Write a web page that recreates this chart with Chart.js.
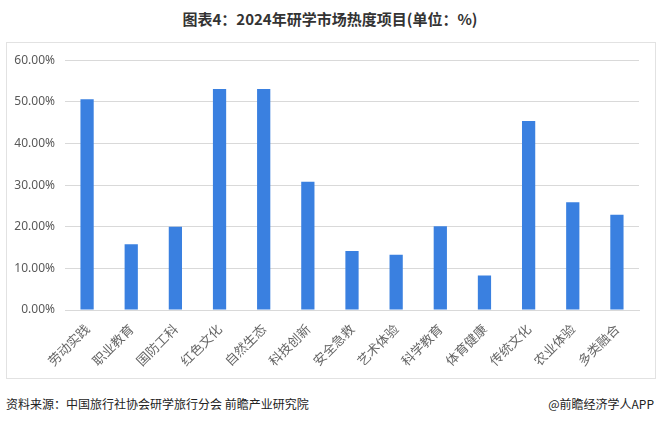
<!DOCTYPE html>
<html>
<head>
<meta charset="utf-8">
<script src="https://cdn.jsdelivr.net/npm/chart.js@4/dist/chart.umd.min.js"></script>
<style>
  body { margin: 0; background: #fff; width: 660px; height: 423px; position: relative; overflow: hidden;
         font-family: "Noto Sans CJK SC", "Noto Sans", sans-serif; }
  #title { position: absolute; top: 8px; left: 0; width: 660px; text-align: center;
           font-size: 15px; font-weight: bold; color: #333; }
  #box { position: absolute; left: 6px; top: 42px; width: 648px; height: 335px;
         border: 1px solid #e2e2e2; }
  #src { position: absolute; left: 6px; top: 395px; font-size: 12px; color: #222; }
  #app { position: absolute; right: 6px; top: 395px; font-size: 12px; color: #222; }
</style>
</head>
<body>
<div id="title">图表4：2024年研学市场热度项目(单位：%)</div>
<div id="box"><canvas id="myChart" width="648" height="335"></canvas></div>
<div id="src">资料来源：中国旅行社协会研学旅行分会 前瞻产业研究院</div>
<div id="app">@前瞻经济学人APP</div>
<script>
var categories = ["劳动实践", "职业教育", "国防工科", "红色文化", "自然生态", "科技创新", "安全急救",
                  "艺术体验", "科学教育", "体育健康", "传统文化", "农业体验", "多类融合"];
var heatValues = [50.6, 15.8, 20.0, 53.1, 53.1, 30.8, 14.2, 13.3, 20.1, 8.3, 45.4, 25.9, 22.9];
var yTicks = [0, 10, 20, 30, 40, 50, 60];

function makeChart() {
    var ctx = document.getElementById("myChart");
    var myChart = new Chart(ctx, {
        type: 'bar',
        data: {
            labels: categories,
            datasets: [{
                label: '热度',
                data: heatValues,
                backgroundColor: '#3a80e0',
                categoryPercentage: 1.0,
                barPercentage: 0.3
            }]
        },
        options: {
            responsive: false,
            animation: false,
            layout: { padding: { left: 2, right: 16, top: 6, bottom: 0 } },
            plugins: { legend: { display: false }, tooltip: { enabled: false } },
            scales: {
                x: {
                    grid: { display: false },
                    border: { color: '#d9d9d9' },
                    afterFit: function (axis) { axis.height = 68; },
                    ticks: {
                        color: '#666',
                        font: { size: 13, family: "Noto Sans CJK SC" },
                        maxRotation: 45,
                        minRotation: 45,
                        autoSkip: false
                    }
                },
                y: {
                    min: yTicks[0],
                    max: yTicks[yTicks.length - 1],
                    grid: { color: '#d9d9d9', drawTicks: false },
                    border: { display: false },
                    afterFit: function (axis) { axis.width = 56; },
                    afterBuildTicks: function (axis) {
                        axis.ticks = yTicks.map(function (v) { return { value: v }; });
                    },
                    ticks: {
                        color: '#595959',
                        padding: 10,
                        font: { size: 12, family: "Noto Sans" },
                        callback: function (v) { return v.toFixed(2) + '%'; }
                    }
                }
            }
        }
    });
}
makeChart();
</script>
</body>
</html>
